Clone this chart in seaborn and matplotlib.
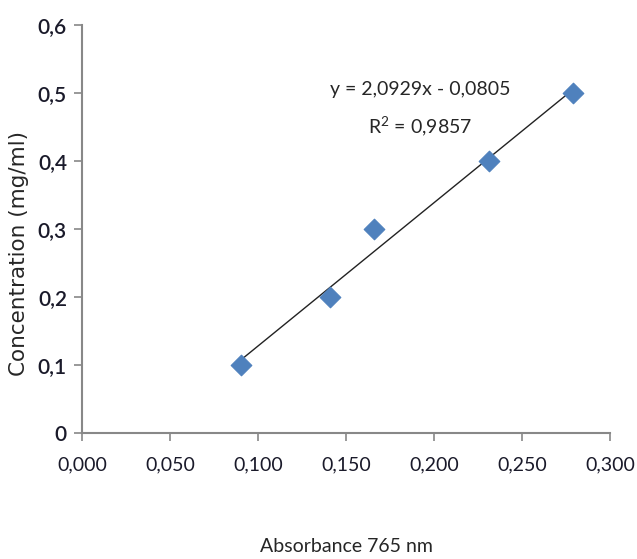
import matplotlib
matplotlib.use("Agg")
import matplotlib.pyplot as plt
import seaborn as sns
import numpy as np
import pandas as pd

absorbance = [0.090, 0.141, 0.166, 0.231, 0.279]
concentration = [0.1, 0.2, 0.3, 0.4, 0.5]
x_ticks = [0.0, 0.05, 0.10, 0.15, 0.20, 0.25, 0.30]
x_tick_labels = ["0,000", "0,050", "0,100", "0,150", "0,200", "0,250", "0,300"]
y_ticks = [0, 0.1, 0.2, 0.3, 0.4, 0.5, 0.6]
y_tick_labels = ["0", "0,1", "0,2", "0,3", "0,4", "0,5", "0,6"]
equation = "y = 2,0929x - 0,0805"
r2_text = "R$^{2}$ = 0,9857"

df = pd.DataFrame({"abs": absorbance, "conc": concentration})

sns.set_style("white")
narrow = ["Lato", "DejaVu Sans"]
plt.rcParams["mathtext.fontset"] = "custom"
plt.rcParams["mathtext.rm"] = "Lato"

fig = plt.figure(figsize=(6.37, 5.59), dpi=100)
ax = fig.add_axes([0.129, 0.225, 0.829, 0.730])

sns.regplot(data=df, x="abs", y="conc", ci=None, scatter=False, ax=ax,
            line_kws=dict(color="#222222", lw=1.0))
sns.scatterplot(data=df, x="abs", y="conc", marker="D", s=110, color="#4F81BD",
                edgecolor="#4F81BD", ax=ax, zorder=3)

ax.set_xlim(0, 0.3)
ax.set_ylim(0, 0.6)
ax.set_xticks(x_ticks)
ax.set_xticklabels(x_tick_labels, fontfamily=narrow, fontsize=14)
ax.set_yticks(y_ticks)
ax.set_yticklabels(y_tick_labels, fontfamily=narrow, fontsize=15, fontweight="semibold")
ax.tick_params(axis="both", direction="out", length=6, color="#888888", width=1.2,
               labelcolor="#1a1a2a", bottom=True, left=True)
ax.tick_params(axis="x", pad=11)
ax.tick_params(axis="y", pad=5)
for s in ["top", "right"]:
    ax.spines[s].set_visible(False)
for s in ["left", "bottom"]:
    ax.spines[s].set_color("#888888")
    ax.spines[s].set_linewidth(1.5)

ax.set_xlabel("Absorbance 765 nm", fontfamily=narrow, fontsize=14, labelpad=46)
ax.set_ylabel("Concentration (mg/ml)", fontfamily="DejaVu Sans", fontsize=15.5)
ax.yaxis.set_label_coords(-0.1, 0.44)

ax.text(0.192, 0.505, equation, fontfamily=narrow, fontsize=14, ha="center", va="center")
ax.text(0.192, 0.451, r2_text, fontfamily=narrow, fontsize=14, ha="center", va="center")

fig.savefig("out.png", dpi=100)
